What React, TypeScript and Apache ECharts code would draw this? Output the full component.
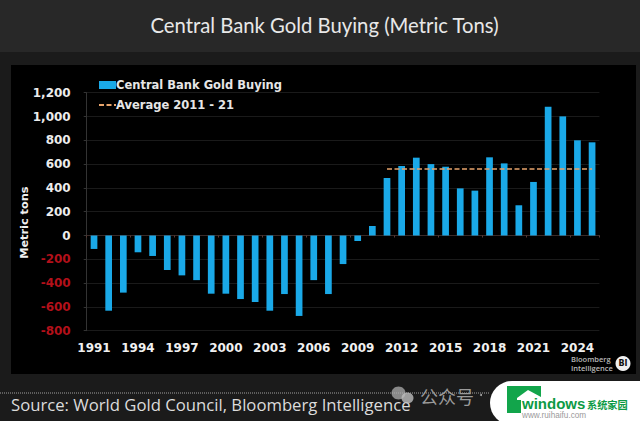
import React, { useEffect, useRef } from "react";
import * as echarts from "echarts";

const years = ["1991","1992","1993","1994","1995","1996","1997","1998","1999","2000","2001","2002","2003","2004","2005","2006","2007","2008","2009","2010","2011","2012","2013","2014","2015","2016","2017","2018","2019","2020","2021","2022","2023","2024","2025"];
const buying = [-113,-632,-480,-141,-172,-290,-335,-375,-489,-489,-534,-559,-632,-492,-676,-375,-492,-240,-46,80,483,584,654,600,578,396,377,657,606,254,450,1082,1001,800,783];
const average = [null,null,null,null,null,null,null,null,null,null,null,null,null,null,null,null,null,null,null,null,559,559,559,559,559,559,559,559,559,559,559,559,559,559,559];
const barName = "Central Bank Gold Buying";
const avgName = "Average 2011 - 21";
const titleText = "Central Bank Gold Buying (Metric Tons)";
const sourceText = "Source: World Gold Council, Bloomberg Intelligence";

const bold = "'DejaVu Sans'";

export default function App() {
  const ref = useRef<HTMLDivElement>(null);
  useEffect(() => {
    const chart = echarts.init(ref.current!, null, { renderer: "svg" });
    chart.setOption({
      animation: false,
      backgroundColor: "#1b1b1b",
      grid: { left: 86.7, right: 40.6, top: 92.7, height: 238 },
      legend: {
        left: 98, top: 79, orient: "vertical", itemGap: 8, itemWidth: 17, itemHeight: 8,
        padding: 0,
        selectedMode: false,
        textStyle: { color: "#e6e6e6", fontFamily: bold, fontWeight: "bold", fontSize: 11.5, padding: [0, 0, 0, -5] },
        data: [
          { name: barName, icon: "rect" },
          { name: avgName, itemStyle: { opacity: 0 } },
        ],
      },
      xAxis: [
        {
          type: "category", data: years, position: "bottom",
          axisLine: { show: false, onZero: false }, axisTick: { show: false },
          axisLabel: { interval: 2, color: "#f0f0f0", fontFamily: bold, fontWeight: "bold", fontSize: 12, margin: 11 },
        },
        {
          type: "category", data: years, position: "bottom",
          axisLine: { onZero: true, lineStyle: { color: "#3a2a28" } },
          axisTick: { show: true, alignWithLabel: false, length: 2, lineStyle: { color: "#5a3a35" } },
          axisLabel: { show: false },
        },
      ],
      yAxis: {
        type: "value", min: -800, max: 1200, interval: 200,
        name: "Metric tons", nameLocation: "middle", nameGap: 57, nameMoveOverlap: false,
        nameTextStyle: { color: "#f0f0f0", fontFamily: bold, fontWeight: "bold", fontSize: 11.3, padding: [0, 22, 0, 0] },
        axisLine: { show: true, lineStyle: { color: "#333333" } },
        axisTick: { show: true, length: 3, lineStyle: { color: "#333333" } },
        splitLine: { lineStyle: { color: "#1a1a1a" } },
        axisLabel: {
          margin: 16, fontFamily: bold, fontWeight: "bold", fontSize: 12,
          color: (v: number) => (v < 0 ? "#b3101a" : "#ececec"),
          formatter: (v: number) => v.toLocaleString("en-US"),
        },
      },
      series: [
        { name: barName, type: "bar", data: buying, barWidth: 6.7, itemStyle: { color: "#1aa9e8" }, z: 2 },
        {
          name: avgName, type: "line", data: average, symbol: "none", z: 3,
          lineStyle: { color: "#e8a46c", width: 1.5, type: [5, 2.5] },
          itemStyle: { color: "#e8a46c" },
        },
      ],
      graphic: [
        { type: "rect", z: -10, shape: { x: 0, y: 0, width: 640, height: 52 }, style: { fill: "#282828" } },
        { type: "rect", z: -9, shape: { x: 11, y: 65, width: 625, height: 309 }, style: { fill: "#000000" } },
        { type: "text", z: 5, x: 324.5, y: 25, style: { text: titleText, fill: "#e8e8e8", font: "400 20.3px Lato", align: "center", verticalAlign: "middle" } },
        { type: "line", z: 5, shape: { x1: 0, y1: 393, x2: 490, y2: 393 }, style: { stroke: "#a0a0a0", lineWidth: 1, lineDash: [1, 1] } },
        { type: "text", z: 5, x: 11, y: 404, style: { text: sourceText, fill: "#dcdcdc", font: "400 16.7px 'Open Sans'", verticalAlign: "middle" } },
        { type: "text", z: 5, x: 571, y: 359, style: { text: "Bloomberg", fill: "#b8b8b8", font: "600 7.5px 'Open Sans'", verticalAlign: "middle" } },
        { type: "text", z: 5, x: 571, y: 368, style: { text: "Intelligence", fill: "#b8b8b8", font: "600 7.5px 'Open Sans'", verticalAlign: "middle" } },
        { type: "circle", z: 5, shape: { cx: 623, cy: 363.5, r: 7.5 }, style: { fill: "#f0f0f0" } },
        { type: "text", z: 6, x: 623, y: 363.5, style: { text: "BI", fill: "#111111", font: "700 8px 'DejaVu Sans'", align: "center", verticalAlign: "middle" } },
        { type: "ellipse", z: 7, shape: { cx: 398.5, cy: 393, rx: 7, ry: 6.5 }, style: { fill: "rgba(175,175,175,0.75)" } },
        { type: "ellipse", z: 8, shape: { cx: 407.5, cy: 398, rx: 6, ry: 5.5 }, style: { fill: "rgba(190,190,190,0.8)" } },
        { type: "text", z: 7, x: 420, y: 396, style: { text: "公众号", fill: "#9a9a9a", font: "400 18px 'Noto Sans CJK SC'", verticalAlign: "middle" } },
        { type: "circle", z: 7, shape: { cx: 481, cy: 395, r: 1 }, style: { fill: "#aaaaaa" } },
        { type: "rect", z: 10, shape: { x: 490, y: 381, width: 170, height: 44, r: 22 }, style: { fill: "#ffffff" } },
        { type: "polygon", z: 11, shape: { points: [[507, 386], [541, 386], [541, 397], [528, 390], [517, 398], [517, 400], [521, 400], [521, 413], [507, 413]] }, style: { fill: "#12a54b" } },
        { type: "text", z: 13, x: 522, y: 403.5, style: { text: "windows", fill: "#0d9a45", font: "700 15px 'Liberation Sans'", verticalAlign: "middle" } },
        { type: "text", z: 13, x: 587, y: 404.5, style: { text: "系统家园", fill: "#0d9a45", font: "700 10.2px 'Noto Sans CJK SC'", verticalAlign: "middle" } },
        { type: "text", z: 13, x: 522, y: 415.5, style: { text: "www.ruihaifu.com", fill: "#9a9a9a", font: "400 8.2px 'Liberation Sans'", verticalAlign: "middle" } },
      ],
    });
    return () => chart.dispose();
  }, []);
  return <div ref={ref} style={{ position: "absolute", left: 0, top: 0, width: 640, height: 421 }} />;
}
